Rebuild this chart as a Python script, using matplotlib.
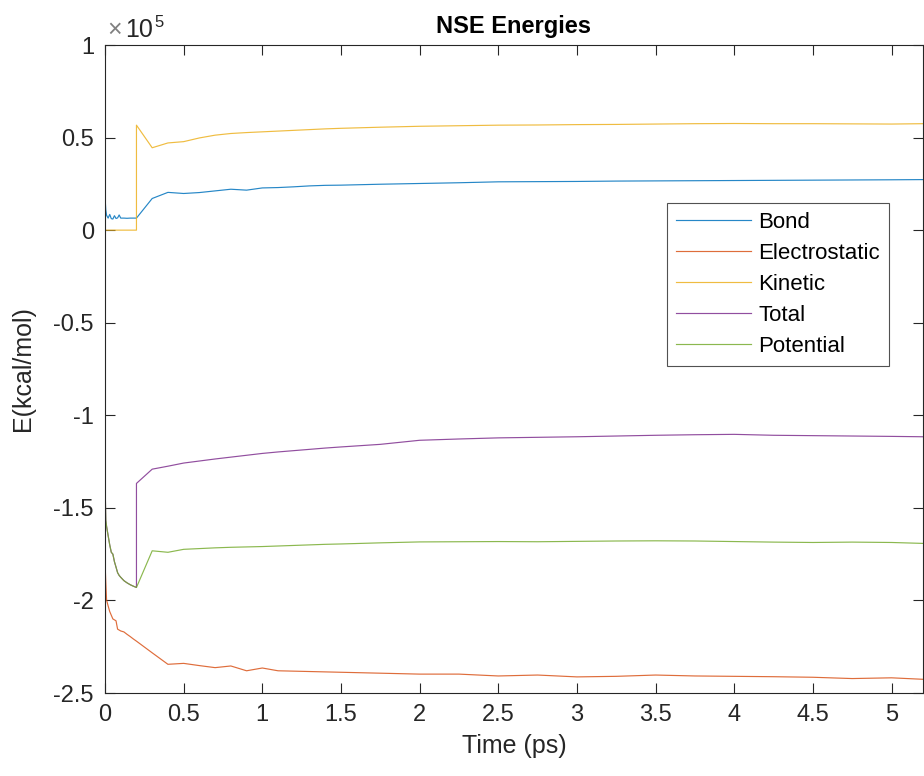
import matplotlib
matplotlib.use("Agg")
import matplotlib.pyplot as plt

plt.rcParams['font.family'] = ['Liberation Sans', 'DejaVu Sans']

# time axis (ps): dense start, then coarser sampling; 0.2 appears twice (step in kinetic)
time_ps = [0, 0.005, 0.01, 0.02, 0.03, 0.04, 0.05, 0.06, 0.07, 0.08, 0.09, 0.1,
           0.12, 0.14, 0.16, 0.18, 0.2, 0.2,
           0.3, 0.4, 0.5, 0.6, 0.7, 0.8, 0.9, 1.0, 1.1, 1.2, 1.3, 1.4, 1.5,
           1.75, 2.0, 2.25, 2.5, 2.75, 3.0, 3.25, 3.5, 3.75, 4.0, 4.25, 4.5,
           4.75, 5.0, 5.2]

bond = [18000, 11000, 8000, 6500, 8500, 6200, 6000, 7800, 6300, 6600, 8200, 6500,
        6500, 6400, 6500, 6500, 6500, 6500,
        17100, 20400, 19800, 20300, 21200, 22100, 21600, 22800, 23000, 23400, 23900, 24200, 24300,
        24800, 25200, 25600, 26100, 26200, 26300, 26500, 26600, 26700, 26800, 26900, 27000,
        27100, 27200, 27300]

electrostatic = [-179100, -190000, -199800, -203000, -206000, -208000, -210000, -210500, -211000,
                 -215500, -216000, -216500, -217000, -218300, -219500, -220800, -222000, -222000,
                 -228300, -234500, -234000, -235200, -236300, -235400, -238000, -236500, -238000,
                 -238200, -238400, -238600, -238800,
                 -239300, -239800, -239800, -240800, -240300, -241300, -241000, -240300, -240800,
                 -241000, -241200, -241500, -242200, -241800, -242600]

kinetic = [0, 0, 0, 0, 0, 0, 0, 0, 0, 0, 0, 0,
           0, 0, 0, 0, 0, 56700,
           44500, 47100, 47800, 49800, 51300, 52200, 52700, 53100, 53500, 53900, 54300, 54700, 55000,
           55600, 56100, 56400, 56700, 56800, 57000, 57100, 57300, 57500, 57600, 57500, 57500,
           57400, 57300, 57500]

total = [-135000, -156600, -160000, -165000, -170000, -174000, -175000, -179100, -182000,
         -185000, -186500, -187500, -189300, -190500, -191500, -192300, -193000, -136800,
         -129100, -127500, -125800, -124700, -123600, -122600, -121600, -120600, -119800,
         -119100, -118400, -117700, -117100,
         -115700, -113500, -112800, -112200, -111900, -111600, -111200, -110800, -110500,
         -110300, -110800, -111000, -111200, -111400, -111600]

potential = [-135000, -156600, -160000, -165000, -170000, -174000, -175000, -179100, -182000,
             -185000, -186500, -187500, -189300, -190500, -191500, -192300, -193000, -193000,
             -173200, -174000, -172400, -172000, -171600, -171300, -171100, -170900, -170600,
             -170300, -170000, -169700, -169500,
             -168900, -168400, -168300, -168200, -168300, -168100, -167900, -167800, -167900,
             -168200, -168500, -168700, -168500, -168700, -169200]

labels = ['Bond', 'Electrostatic', 'Kinetic', 'Total', 'Potential']
colors = ['#0072BD', '#D95319', '#EDB120', '#7E2F8E', '#77AC30']
series = [bond, electrostatic, kinetic, total, potential]

xticks = [0, 0.5, 1, 1.5, 2, 2.5, 3, 3.5, 4, 4.5, 5]
yticks = [-2.5e5, -2e5, -1.5e5, -1e5, -0.5e5, 0, 0.5e5, 1e5]
ytick_labels = ['-2.5', '-2', '-1.5', '-1', '-0.5', '0', '0.5', '1']

axcol = '#262626'
fig = plt.figure(figsize=(9.24, 7.76), dpi=100)
ax = fig.add_axes([105/924, 1-693/776, 818/924, 648/776])

for s, lab, c in zip(series, labels, colors):
    ax.plot(time_ps, s, color=c, lw=0.85, alpha=0.85, label=lab)

ax.set_xlim(0, 5.2)
ax.set_ylim(-2.5e5, 1e5)
ax.set_xticks(xticks)
ax.set_xticklabels(['%g' % x for x in xticks])
ax.set_yticks(yticks)
ax.set_yticklabels(ytick_labels)
ax.tick_params(direction='in', length=7, width=0.8, colors=axcol, labelsize=17,
               top=True, right=True, pad=8)
for sp in ax.spines.values():
    sp.set_color(axcol)
    sp.set_linewidth(0.8)

ax.set_xlabel('Time (ps)', fontsize=18, color=axcol, labelpad=6)
ax.set_ylabel('E(kcal/mol)', fontsize=18, color=axcol, labelpad=13)
ax.set_title('NSE Energies', fontsize=17, fontweight='bold', color='black', pad=9)

# MATLAB-style exponent label
fig.text(107/924, 1-37/776, '\u00d7', fontsize=18, color='#808080', va='baseline')
fig.text(125/924, 1-37/776, '10', fontsize=18, color=axcol, va='baseline')
fig.text(154/924, 1-27/776, '5', fontsize=12, color=axcol, va='baseline')

leg = ax.legend(loc='upper left', bbox_to_anchor=(667/924, 1-203/776),
                bbox_transform=fig.transFigure, fontsize=16, frameon=True,
                fancybox=False, handlelength=3.4, handletextpad=0.3,
                labelspacing=0.45, borderpad=0.4, borderaxespad=0)
leg.get_frame().set_edgecolor(axcol)
leg.get_frame().set_linewidth(0.8)

fig.savefig('out.png', dpi=100)
